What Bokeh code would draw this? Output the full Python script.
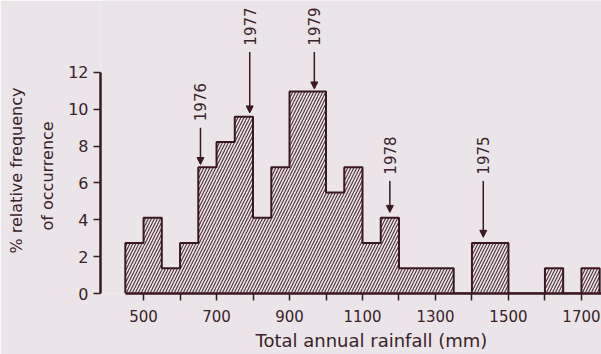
import math
from bokeh.plotting import figure
from bokeh.models import (ColumnDataSource, FixedTicker, Arrow, NormalHead, Title, Range1d)
from bokeh.core.properties import value
from bokeh.embed import file_html
from bokeh.resources import INLINE

# ---- data ----
bin_left = [450, 500, 550, 600, 650, 700, 750, 800, 850, 900, 950, 1000, 1050,
            1100, 1150, 1200, 1250, 1300, 1350, 1400, 1450, 1500, 1550, 1600, 1650, 1700]
bin_width = 50
freq_pct = [2.74, 4.11, 1.37, 2.74, 6.85, 8.22, 9.59, 4.11, 6.85, 10.96, 10.96, 5.48, 6.85,
            2.74, 4.11, 1.37, 1.37, 1.37, 0.0, 2.74, 2.74, 0.0, 0.0, 1.37, 0.0, 1.37]

x_ticks = [500, 600, 700, 800, 900, 1000, 1100, 1200, 1300, 1400, 1500, 1600, 1700]
x_tick_labels = ["500", "", "700", "", "900", "", "1100", "", "1300", "", "1500", "", "1700"]
y_ticks = [0, 2, 4, 6, 8, 10, 12]

ann_year = ["1976", "1977", "1979", "1978", "1975"]
ann_rain = [656, 791, 968, 1175, 1431]
ann_tip = [7.0, 9.8, 11.1, 4.4, 3.05]
ann_top = [9.0, 13.1, 13.1, 6.1, 6.1]

INK = "#3b1820"
TXT = "#3a2228"
BG = "#ebe5ea"
FONT = "DejaVu Sans"

p = figure(width=601, height=354, output_backend="svg", toolbar_location=None,
           x_range=Range1d(382, 1755), y_range=Range1d(0, 15.9),
           min_border_left=100, min_border_right=0, min_border_top=0, min_border_bottom=61)
p.background_fill_color = BG
p.border_fill_color = BG
p.outline_line_color = None
p.grid.visible = False

bin_right = [b + bin_width for b in bin_left]
src = ColumnDataSource(dict(left=bin_left, right=bin_right, top=freq_pct,
                            bottom=[0] * len(bin_left)))
p.quad(left="left", right="right", top="top", bottom="bottom", source=src,
       fill_alpha=0, line_alpha=0, hatch_pattern="/", hatch_color=INK,
       hatch_scale=6, hatch_weight=1.1, hatch_alpha=0.9)

ox, oy = [bin_left[0]], [0]
for l, r, h in zip(bin_left, bin_right, freq_pct):
    ox += [l, r]
    oy += [h, h]
ox.append(bin_right[-1]); oy.append(0)
p.line(ox, oy, line_color=INK, line_width=2)

# axes
xa = p.xaxis[0]
xa.ticker = FixedTicker(ticks=x_ticks)
xa.major_label_overrides = {t: s for t, s in zip(x_ticks, x_tick_labels)}
xa.bounds = (450, 1755)
xa.minor_tick_line_color = None
xa.major_tick_in = 0
xa.major_tick_out = 7
xa.major_tick_line_width = 1.5
xa.major_tick_line_color = INK
xa.axis_line_width = 2.5
xa.axis_line_color = INK
xa.major_label_text_font = FONT
xa.major_label_text_font_size = "15px"
xa.major_label_text_color = TXT
xa.major_label_standoff = 9

ya = p.yaxis[0]
ya.ticker = FixedTicker(ticks=y_ticks)
ya.bounds = (0, 12)
ya.minor_tick_line_color = None
ya.major_tick_in = 0
ya.major_tick_out = 7
ya.major_tick_line_width = 1.5
ya.major_tick_line_color = INK
ya.axis_line_width = 2.5
ya.axis_line_color = INK
ya.major_label_text_font = FONT
ya.major_label_text_font_size = "16px"
ya.major_label_text_color = TXT
ya.major_label_standoff = 5

# annotations (year arrows)
asrc = ColumnDataSource(dict(x=ann_rain, tip=ann_tip, top=ann_top, year=ann_year,
                             ty=[t + 0.35 for t in ann_top]))
p.add_layout(Arrow(end=NormalHead(size=7, fill_color=INK, line_color=INK, line_width=1),
                   x_start="x", y_start="top", x_end="x", y_end="tip", source=asrc,
                   line_color=INK, line_width=1.5))
p.text(x="x", y="ty", text="year", source=asrc, angle=math.pi / 2,
       text_align="left", text_baseline="middle", text_font=value(FONT),
       text_font_size="15px", text_color=TXT)

# axis titles
p.add_layout(Title(text="of occurrence", align="left", offset=63, standoff=18,
                   text_font=FONT, text_font_size="16px", text_font_style="normal",
                   text_color=TXT), "left")
p.add_layout(Title(text="% relative frequency", align="left", offset=40, standoff=2,
                   text_font=FONT, text_font_size="16px", text_font_style="normal",
                   text_color=TXT), "left")
p.add_layout(Title(text="Total annual rainfall (mm)", align="left", offset=155, standoff=7,
                   text_font=FONT, text_font_size="18px", text_font_style="normal",
                   text_color=TXT), "below")

open("out.html", "w").write(file_html(p, INLINE))
